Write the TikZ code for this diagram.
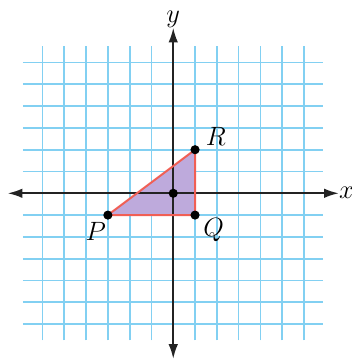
\documentclass[tikz,border=0pt]{standalone}
\usetikzlibrary{arrows.meta}
\definecolor{gridblue}{RGB}{130,208,242}
\definecolor{axisgray}{RGB}{35,35,35}
\definecolor{trifill}{RGB}{190,170,220}
\definecolor{trired}{RGB}{240,95,85}
\tikzset{
  gridline/.style={draw=gridblue, line width=1.1pt},
  axisline/.style={draw=axisgray, line width=1.3pt, {Latex[length=3.4mm,width=2.2mm]}-{Latex[length=3.4mm,width=2.2mm]}},
  dot/.style={circle, fill=black, inner sep=0pt, minimum size=2.1mm},
  lbl/.style={font=\fontsize{16}{18}\selectfont, inner sep=0pt},
}
\begin{document}
\begin{tikzpicture}[x=0.5cm,y=0.5cm]
\useasboundingbox (-7.95,-7.65) rectangle (8.2,8.87);
% grid
\foreach \i in {-6,...,6} {
  \draw[gridline] (\i,-6.75) -- (\i,6.75);
  \draw[gridline] (-6.9,\i) -- (6.85,\i);
}
% triangle
\coordinate (P) at (-3,-1);
\coordinate (Q) at (1,-1);
\coordinate (R) at (1,2);
\coordinate (O) at (0,0);
\fill[trifill] (P) -- (Q) -- (R) -- cycle;
% axes
\coordinate (xa) at (-7.6,0);
\coordinate (xb) at (7.6,0);
\coordinate (ya) at (0,-7.6);
\coordinate (yb) at (0,7.6);
\draw[axisline] (xa) -- (xb);
\draw[axisline] (ya) -- (yb);
\draw[trired, line width=1.3pt, line join=round] (P) -- (Q) -- (R) -- cycle;
% dots
\node[dot] (p) at (P) {};
\node[dot] (q) at (Q) {};
\node[dot] (r) at (R) {};
\node[dot] (o) at (O) {};
% labels
\node[lbl] (xl) at (7.95,0) {$x$};
\node[lbl] (yl) at (0,8.0) {$y$};
\node[lbl] (pl) at (-3.55,-1.75) {$P$};
\node[lbl] (ql) at (1.85,-1.7) {$Q$};
\node[lbl] (rl) at (1.95,2.6) {$R$};
\end{tikzpicture}
\end{document}
